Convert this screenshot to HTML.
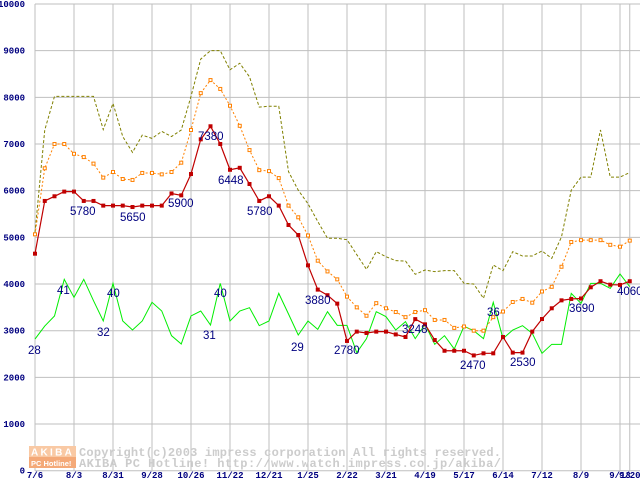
<!DOCTYPE html>
<html><head><meta charset="utf-8">
<style>
html,body{margin:0;padding:0;background:#fff;}
svg{display:block;}
.yt{font-family:"Liberation Mono",monospace;font-weight:bold;font-size:9px;fill:#000080;}
.xt{font-family:"Liberation Mono",monospace;font-weight:bold;font-size:9px;fill:#000080;}
.lb{font-family:"Liberation Sans",sans-serif;font-size:11.5px;fill:#000080;}
.cp{font-family:"Liberation Mono",monospace;font-weight:bold;font-size:12px;fill:#cccccc;}
</style></head>
<body>
<svg id="chart" width="640" height="480" xmlns="http://www.w3.org/2000/svg">
<g id="grid"></g>
<g id="ticks"></g>
<g id="wm">
  <rect x="29" y="446" width="47" height="11" fill="#f9c9a4"/>
  <rect x="29" y="457" width="47" height="11" fill="#f4a978"/>
  <text x="31" y="455.5" font-family="Liberation Sans,sans-serif" font-weight="bold" font-size="10" fill="#ffffff" letter-spacing="2.3">AKIBA</text>
  <text x="31" y="466" font-family="Liberation Sans,sans-serif" font-weight="bold" font-size="7.5" fill="#ffffff">PC Hotline!</text>
  <text class="cp" x="79" y="456" textLength="422">Copyright(c)2003 impress corporation All rights reserved.</text>
  <text class="cp" x="79" y="467" textLength="422">AKIBA PC Hotline!  http://www.watch.impress.co.jp/akiba/</text>
</g>
<g id="series"></g>
<g id="labels"></g>
</svg>
<script>
const yTicks = [0,1000,2000,3000,4000,5000,6000,7000,8000,9000,10000];
const xTickLabels = ["7/6","8/3","8/31","9/28","10/26","11/22","12/21","1/25","2/22","3/21","4/19","5/17","6/14","7/12","8/9","9/13","9/20"];
const xTickIndex = [0,4,8,12,16,20,24,28,32,36,40,44,48,52,56,60,61];
const redValues = [4650,5780,5880,5980,5980,5780,5780,5680,5680,5680,5650,5680,5680,5680,5940,5900,6357,7100,7380,7000,6448,6490,6143,5780,5880,5680,5265,5050,4400,3880,3760,3580,2780,2980,2950,2980,2980,2920,2865,3248,3136,2800,2570,2570,2570,2470,2515,2515,2865,2530,2530,2980,3250,3480,3650,3680,3690,3930,4060,3986,3980,4060];
const orangeValues = [5065,6480,7000,7000,6790,6720,6580,6280,6400,6250,6230,6380,6380,6350,6400,6600,7300,8090,8370,8180,7820,7390,6870,6440,6420,6270,5680,5430,5040,4500,4270,4100,3730,3500,3320,3590,3480,3400,3290,3400,3440,3230,3230,3060,3090,3000,3000,3290,3410,3615,3680,3600,3840,3940,4370,4900,4940,4940,4940,4840,4800,4930];
const oliveValues = [5100,7300,8020,8020,8020,8020,8020,7310,7870,7160,6820,7190,7120,7270,7160,7300,8020,8820,9000,9000,8590,8730,8440,7790,7810,7810,6410,6010,5720,5340,4980,4980,4950,4630,4315,4693,4586,4500,4493,4208,4300,4265,4286,4286,4015,4000,3693,4408,4286,4693,4600,4600,4708,4550,5010,6010,6290,6290,7300,6290,6290,6390];
const greenValues = [2820,3100,3315,4100,3715,4100,3643,3208,4015,3208,3015,3208,3608,3422,2893,2715,3315,3422,3122,4015,3208,3422,3493,3108,3208,3800,3358,2908,3208,3029,3408,3115,3115,2530,2830,3408,3300,3015,3193,2830,3136,2708,2893,2608,3093,3000,2830,3608,2830,3015,3108,2944,2515,2708,2708,3800,3586,4015,4015,3908,4215,3943];
const labelTexts = ["28","41","32","40","31","40","29","36","5780","5650","5900","7380","6448","5780","3880","2780","3248","2470","2530","3690","4060"];

const NS="http://www.w3.org/2000/svg";
const X0=35, DX=9.75, Y0=470.7, KY=0.04667;
const xs=i=>X0+i*DX, ys=v=>Y0-v*KY;
function mk(tag,attrs,parent){const e=document.createElementNS(NS,tag);for(const k in attrs)e.setAttribute(k,attrs[k]);parent.appendChild(e);return e;}
const grid=document.getElementById('grid'), ticks=document.getElementById('ticks');
yTicks.forEach(v=>{
  const l=mk('line',{x1:X0,x2:640,y1:ys(v),y2:ys(v),stroke:'#bfbfbf','stroke-width':1},grid);
  
  
  const t=mk('text',{x:25,y:ys(v)+3,'text-anchor':'end',class:'yt'},ticks);
  t.textContent=v;
  
  
});
xTickIndex.forEach((idx,k)=>{
  const x=xs(idx);
  const l=mk('line',{x1:x,x2:x,y1:ys(10000),y2:ys(0),stroke:'#bfbfbf','stroke-width':1},grid);
  
  
  const t=mk('text',{x:x,y:478,'text-anchor':'middle',class:'xt'},ticks);
  t.textContent=xTickLabels[k];
  
  
});
const ser=document.getElementById('series');
function pts(arr){return arr.map((v,i)=>xs(i).toFixed(2)+','+ys(v).toFixed(2)).join(' ');}
const ol=mk('polyline',{points:pts(oliveValues),fill:'none',stroke:'#808000','stroke-width':1,'stroke-dasharray':'3,2'},ser);


const gr=mk('polyline',{points:pts(greenValues),fill:'none',stroke:'#00ee00','stroke-width':1},ser);


const or=mk('polyline',{points:pts(orangeValues),fill:'none',stroke:'#ff8000','stroke-width':1,'stroke-dasharray':'2,2'},ser);


orangeValues.forEach((v,i)=>{
  const r=mk('rect',{x:xs(i)-1.5,y:ys(v)-1.5,width:3,height:3,fill:'#fff',stroke:'#ff8000','stroke-width':1},ser);
  
  
});
const rd=mk('polyline',{points:pts(redValues),fill:'none',stroke:'#c00000','stroke-width':1.2},ser);


redValues.forEach((v,i)=>{
  const r=mk('rect',{x:xs(i)-2,y:ys(v)-2,width:4,height:4,fill:'#c00000'},ser);
  
  
});
const labelPos=[[28,354],[57,294],[97,336],[107,297],[203,339],[214,297],[291,351],[487,316],[70,215],[120,221],[168,207],[198,140],[218,184],[247,215],[305,304],[334,354],[402,333],[460,369],[510,366],[569,312],[617,295]];
const lg=document.getElementById('labels');
labelTexts.forEach((s,k)=>{
  const t=mk('text',{x:labelPos[k][0],y:labelPos[k][1],class:'lb'},lg);
  t.textContent=s;
  
  
});
</script>
</body></html>
